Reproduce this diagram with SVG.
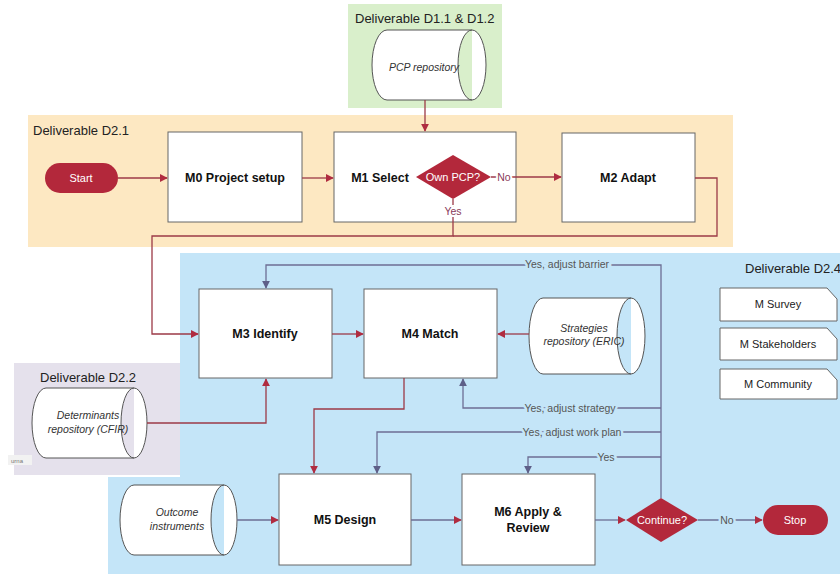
<svg xmlns="http://www.w3.org/2000/svg" width="840" height="574" viewBox="0 0 840 574">
<defs>
<style>
text{font-family:"Liberation Sans",Arial,sans-serif}
.reg{font-size:13px;fill:#222}
.box{fill:#fff;stroke:#666;stroke-width:1}
.nt{font-size:12.5px;font-weight:bold;fill:#111;text-anchor:middle}
.it{font-size:10.5px;font-style:italic;fill:#333;text-anchor:middle}
.cyl{fill:#fff;stroke:#555;stroke-width:1}
.red{fill:#b3283b}
.wt{font-size:11px;fill:#fff;text-anchor:middle}
.cr{fill:none;stroke:#9c3a47;stroke-width:1.3}
.cb{fill:none;stroke:#6d6e94;stroke-width:1.3}
.lb{font-size:10.5px;fill:#555;text-anchor:middle;paint-order:stroke;stroke:#c4e5f8;stroke-width:5}
.lw{font-size:10.5px;fill:#8a3a5a;text-anchor:middle;paint-order:stroke;stroke:#fff;stroke-width:4}
.card{fill:#fff;stroke:#666;stroke-width:1}
.ct{font-size:11px;fill:#222;text-anchor:middle}
</style>
<marker id="ar" viewBox="0 0 10 10" refX="9" refY="5" markerWidth="8" markerHeight="8" markerUnits="userSpaceOnUse" orient="auto"><path d="M0,0 L10,5 L0,10 z" fill="#b02c40"/></marker>
<marker id="ab" viewBox="0 0 10 10" refX="9" refY="5" markerWidth="8" markerHeight="8" markerUnits="userSpaceOnUse" orient="auto"><path d="M0,0 L10,5 L0,10 z" fill="#5e5f88"/></marker>
</defs>
<rect width="840" height="574" fill="#ffffff"/>
<g id="regions">
<rect x="348" y="4" width="154" height="104" fill="#d9efcb"/>
<rect x="28" y="115" width="705" height="132" fill="#fde8c2"/>
<path d="M180,253 H840 V574 H108 V477 H180 Z" fill="#c4e5f8"/>
<rect x="14" y="363" width="166" height="112" fill="#e5e1ec"/>
<text class="reg" x="355" y="23">Deliverable D1.1 &amp; D1.2</text>
<text class="reg" x="33" y="135">Deliverable D2.1</text>
<text class="reg" x="40" y="382">Deliverable D2.2</text>
<text class="reg" x="745" y="273">Deliverable D2.4</text>
<rect x="8" y="455" width="24" height="10" fill="#f2f2f2"/>
<text x="11" y="463" font-size="6" fill="#777">urna</text>
</g>
<g id="pcp">
<path class="cyl" d="M387,30 H472 A14,35 0 0 1 472,100 H387 A15,35 0 0 1 387,30 Z M472,30 A14,35 0 0 0 472,100"/>
<text class="it" x="424" y="71">PCP repository</text>
</g>
<g id="start">
<rect class="red" x="45" y="163" width="73" height="30" rx="15"/>
<text class="wt" x="81" y="182">Start</text>
</g>
<g id="m0">
<rect class="box" x="168" y="132" width="134" height="90"/>
<text class="nt" x="235" y="182">M0 Project setup</text>
</g>
<g id="m1">
<rect class="box" x="334" y="132" width="182" height="90"/>
<text class="nt" x="380" y="182">M1 Select</text>
</g>
<g id="m2">
<rect class="box" x="562" y="133" width="133" height="89"/>
<text class="nt" x="628" y="182">M2 Adapt</text>
</g>
<g id="m3">
<rect class="box" x="199" y="289" width="133" height="89"/>
<text class="nt" x="265" y="338">M3 Identify</text>
</g>
<g id="m4">
<rect class="box" x="364" y="289" width="133" height="89"/>
<text class="nt" x="430" y="338">M4 Match</text>
</g>
<g id="eric">
<path class="cyl" d="M543,298 H631 A14,38 0 0 1 631,374 H543 A14,38 0 0 1 543,298 Z M631,298 A14,38 0 0 0 631,374"/>
<text class="it" x="584" y="332">Strategies</text>
<text class="it" x="584" y="345">repository (ERIC)</text>
</g>
<g id="survey">
<path class="card" d="M720,288 H827 L837,299 V321 H720 Z"/>
<text class="ct" x="778" y="308">M Survey</text>
</g>
<g id="stakeholders">
<path class="card" d="M720,328 H827 L837,339 V360 H720 Z"/>
<text class="ct" x="778" y="348">M Stakeholders</text>
</g>
<g id="community">
<path class="card" d="M720,369 H827 L837,380 V399 H720 Z"/>
<text class="ct" x="778" y="388">M Community</text>
</g>
<g id="cfir">
<path class="cyl" d="M46,388 H134 A13,35 0 0 1 134,458 H46 A14,35 0 0 1 46,388 Z M134,388 A13,35 0 0 0 134,458"/>
<text class="it" x="88" y="419">Determinants</text>
<text class="it" x="88" y="433">repository (CFIR)</text>
</g>
<g id="outcome">
<path class="cyl" d="M134,485 H224 A13,35 0 0 1 224,555 H134 A14,35 0 0 1 134,485 Z M224,485 A13,35 0 0 0 224,555"/>
<text class="it" x="177" y="516">Outcome</text>
<text class="it" x="177" y="530">instruments</text>
</g>
<g id="m5">
<rect class="box" x="279" y="474" width="132" height="91"/>
<text class="nt" x="345" y="524">M5 Design</text>
</g>
<g id="m6">
<rect class="box" x="462" y="474" width="133" height="91"/>
<text class="nt" x="528" y="516">M6 Apply &amp;</text>
<text class="nt" x="528" y="532">Review</text>
</g>
<g id="connectors">
<path class="cr" d="M425,100 V131" marker-end="url(#ar)"/>
<path class="cr" d="M118,178 H167" marker-end="url(#ar)"/>
<path class="cr" d="M302,178 H333" marker-end="url(#ar)"/>
<path class="cr" d="M491,177 H561" marker-end="url(#ar)"/>
<path class="cr" d="M453,199 V236 H152 V334 H198" marker-end="url(#ar)"/>
<path class="cr" d="M695,178 H717 V236 H453"/>
<path class="cr" d="M332,334 H363" marker-end="url(#ar)"/>
<path class="cr" d="M529,334 H498" marker-end="url(#ar)"/>
<path class="cr" d="M147,423 H266 V379" marker-end="url(#ar)"/>
<path class="cr" d="M404,378 V409 H314 V473" marker-end="url(#ar)"/>
<path class="cb" d="M237,520 H278" marker-end="url(#ar)"/>
<path class="cb" d="M411,520 H461" marker-end="url(#ar)"/>
<path class="cb" d="M595,520 H625" marker-end="url(#ar)"/>
<path class="cb" d="M698,520 H762" marker-end="url(#ar)"/>
<path class="cb" d="M661,498 V265 H266 V288" marker-end="url(#ab)"/>
<path class="cb" d="M661,408 H463 V379" marker-end="url(#ab)"/>
<path class="cb" d="M661,432 H377 V473" marker-end="url(#ab)"/>
<path class="cb" d="M661,457 H528 V473" marker-end="url(#ab)"/>
<text class="lw" x="504" y="181">No</text>
<text class="lw" x="453" y="215">Yes</text>
<text class="lb" x="567" y="268">Yes, adjust barrier</text>
<text class="lb" x="570" y="412">Yes, adjust strategy</text>
<text class="lb" x="572" y="436">Yes, adjust work plan</text>
<text class="lb" x="606" y="461">Yes</text>
<text class="lb" x="727" y="524">No</text>
</g>
<g id="ownpcp">
<path class="red" d="M453,155 L491,177 L453,199 L416,177 Z"/>
<text class="wt" x="453" y="181" font-size="10.5">Own PCP?</text>
</g>
<g id="continue">
<path class="red" d="M661,498 L698,520 L661,542 L626,520 Z"/>
<text class="wt" x="662" y="524" font-size="10.5">Continue?</text>
</g>
<g id="stop">
<rect class="red" x="763" y="505" width="65" height="30" rx="15"/>
<text class="wt" x="795" y="524">Stop</text>
</g>
</svg>
